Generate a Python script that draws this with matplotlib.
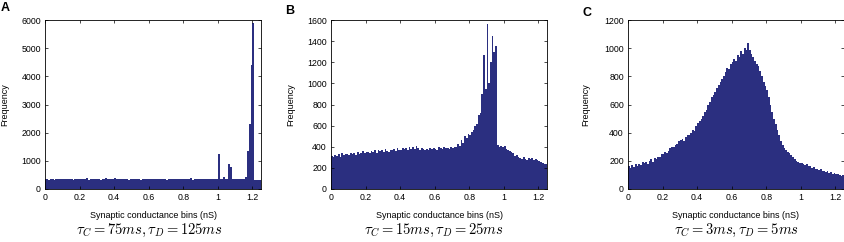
import numpy as np
import matplotlib
matplotlib.use("Agg")
import matplotlib.pyplot as plt

plt.rcParams['font.family'] = ['Liberation Sans', 'DejaVu Sans']
plt.rcParams['mathtext.fontset'] = 'cm'

# histogram counts, bins of 0.01 nS from 0 to 1.25
bin_width = 0.01

counts_a = [340, 355, 330, 348, 362, 335, 350, 372, 345, 338,
            360, 352, 341, 367, 349, 356, 333, 371, 346, 358,
            339, 364, 351, 344, 375, 337, 359, 348, 366, 342,
            353, 370, 336, 361, 347, 379, 343, 356, 368, 340,
            392, 351, 338, 363, 349, 357, 345, 372, 336, 360,
            348, 366, 341, 354, 370, 337, 359, 346, 363, 350,
            342, 368, 355, 339, 361, 347, 372, 344, 357, 351,
            336, 364, 349, 358, 341, 370, 346, 353, 338, 366,
            352, 343, 361, 348, 374, 337, 356, 345, 362, 350,
            340, 367, 353, 344, 359, 338, 370, 347, 356, 342,
            1250, 351, 345, 420, 349, 360, 900, 780, 355, 344,
            352, 366, 340, 358, 348, 345, 410, 1350, 2300, 4400,
            5900, 330, 310, 325, 315]

counts_b = [310, 300, 325, 315, 330, 305, 340, 320, 335, 328,
            318, 345, 330, 338, 322, 350, 335, 342, 360, 338,
            348, 355, 340, 362, 350, 368, 345, 372, 358, 365,
            352, 375, 360, 348, 370, 365, 380, 358, 385, 372,
            368, 392, 375, 388, 370, 395, 380, 398, 376, 405,
            385, 372, 390, 378, 365, 382, 370, 388, 375, 392,
            380, 372, 395, 385, 378, 400, 388, 392, 380, 398,
            385, 400, 395, 430, 410, 460, 440, 500, 480, 520,
            510, 540, 560, 600, 620, 700, 720, 900, 1270, 950,
            1560, 1000, 1200, 1450, 1300, 1350, 420, 400, 410, 395,
            405, 380, 370, 360, 350, 340, 310, 320, 300, 295,
            280, 300, 285, 275, 290, 280, 295, 270, 285, 275,
            265, 260, 250, 240, 235]

counts_c = [160, 150, 170, 155, 175, 165, 180, 170, 190, 185,
            195, 180, 200, 210, 195, 220, 215, 230, 225, 250,
            245, 260, 255, 270, 290, 300, 295, 310, 320, 340,
            350, 355, 340, 370, 385, 380, 400, 420, 410, 445,
            470, 480, 500, 520, 550, 560, 600, 620, 650, 670,
            690, 720, 740, 760, 780, 800, 830, 860, 850, 890,
            900, 920, 910, 950, 940, 980, 960, 1000, 990, 1035,
            990, 960, 940, 910, 890, 870, 840, 800, 760, 730,
            700, 650, 600, 550, 500, 460, 420, 380, 340, 310,
            290, 275, 265, 255, 240, 230, 215, 200, 195, 185,
            185, 180, 170, 175, 160, 165, 150, 155, 140, 145,
            135, 140, 125, 130, 120, 125, 115, 120, 110, 115,
            110, 105, 100, 95, 100]

panels = ['A', 'B', 'C']
y_max = [6000, 1600, 1200]
y_step = [1000, 200, 200]
captions = [r'$\tau_C = 75ms, \tau_D = 125ms$',
            r'$\tau_C = 15ms, \tau_D = 25ms$',
            r'$\tau_C = 3ms, \tau_D = 5ms$']
x_ticks = [0, 0.2, 0.4, 0.6, 0.8, 1, 1.2]
x_ticklabels = ['0', '0.2', '0.4', '0.6', '0.8', '1', '1.2']

color = '#2b2f80'
W, H = 844, 242

fig = plt.figure(figsize=(W / 100, H / 100), dpi=100)
lefts = [45, 331, 628]
ylabel_x = [-0.165, -0.167, -0.175]
caption_x = [0.485, 0.475, 0.5]
letter_pos = [(5, 8), (290, 11), (587, 13)]

for i, counts in enumerate([counts_a, counts_b, counts_c]):
    ax = fig.add_axes([lefts[i] / W, 1 - 189 / H, 216 / W, 169 / H])
    edges = np.arange(len(counts) + 1) * bin_width
    ax.stairs(counts, edges, fill=True, color=color, linewidth=0)
    ax.set_xlim(0, 1.25)
    ax.set_ylim(0, y_max[i])
    ax.set_xticks(x_ticks)
    ax.set_xticklabels(x_ticklabels)
    ax.set_yticks(np.arange(0, y_max[i] + 1, y_step[i]))
    ax.tick_params(direction='in', length=2.5, width=0.5, labelsize=6.3,
                   top=True, right=True, pad=3)
    for s in ax.spines.values():
        s.set_linewidth(0.6)
    ax.set_xlabel('Synaptic conductance bins (nS)', fontsize=6.5)
    ax.xaxis.set_label_coords(0.5, -0.128)
    ax.set_ylabel('Frequency', fontsize=6.5)
    ax.yaxis.set_label_coords(ylabel_x[i], 0.5)
    ax.text(caption_x[i], -0.245, captions[i], transform=ax.transAxes,
            ha='center', va='center', fontsize=10.5)
    lx, ly = letter_pos[i]
    fig.text(lx / W, 1 - ly / H, panels[i], fontsize=9, fontweight='bold',
             ha='center', va='center')

fig.savefig('out.png', dpi=100)
